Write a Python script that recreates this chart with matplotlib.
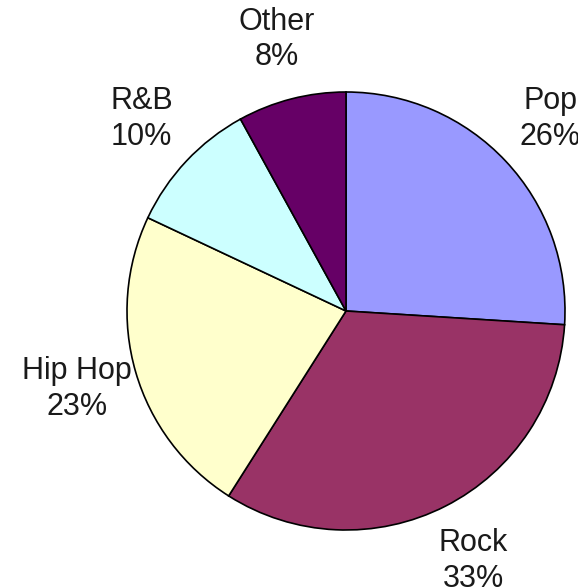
import numpy as np
import matplotlib.pyplot as plt

# Music genre shares
genres = ['Pop', 'Rock', 'Hip Hop', 'R&B', 'Other']
shares = [26, 33, 23, 10, 8]
colors = ['#9999FF', '#993366', '#FFFFCC', '#CCFFFF', '#660066']

plt.rcParams['font.family'] = ['Liberation Sans', 'DejaVu Sans']

fig = plt.figure(figsize=(5.78, 5.88), dpi=100)
ax = fig.add_axes([0, 0, 1, 1])

cx, cy, r = 346, 277, 219
wedges, _ = ax.pie(shares, colors=colors, startangle=90, counterclock=False,
                   center=(cx, cy), radius=r,
                   wedgeprops=dict(edgecolor='black', linewidth=1.2))

# pie() resets the limits, so fix them afterwards (1 unit = 1 pixel)
ax.set_xlim(0, 578)
ax.set_ylim(0, 588)
ax.set_aspect('equal')
ax.axis('off')

# Labels sit outside each wedge, at its middle angle
for w, name, val in zip(wedges, genres, shares):
    mid = np.deg2rad((w.theta1 + w.theta2) / 2)
    d = r * 1.28
    ax.text(cx + d * np.cos(mid), cy + d * np.sin(mid), f'{name}\n{val}%',
            ha='center', va='center', fontsize=22, color='#1a1a1a',
            linespacing=1.25)

fig.savefig('out.png', dpi=100)
